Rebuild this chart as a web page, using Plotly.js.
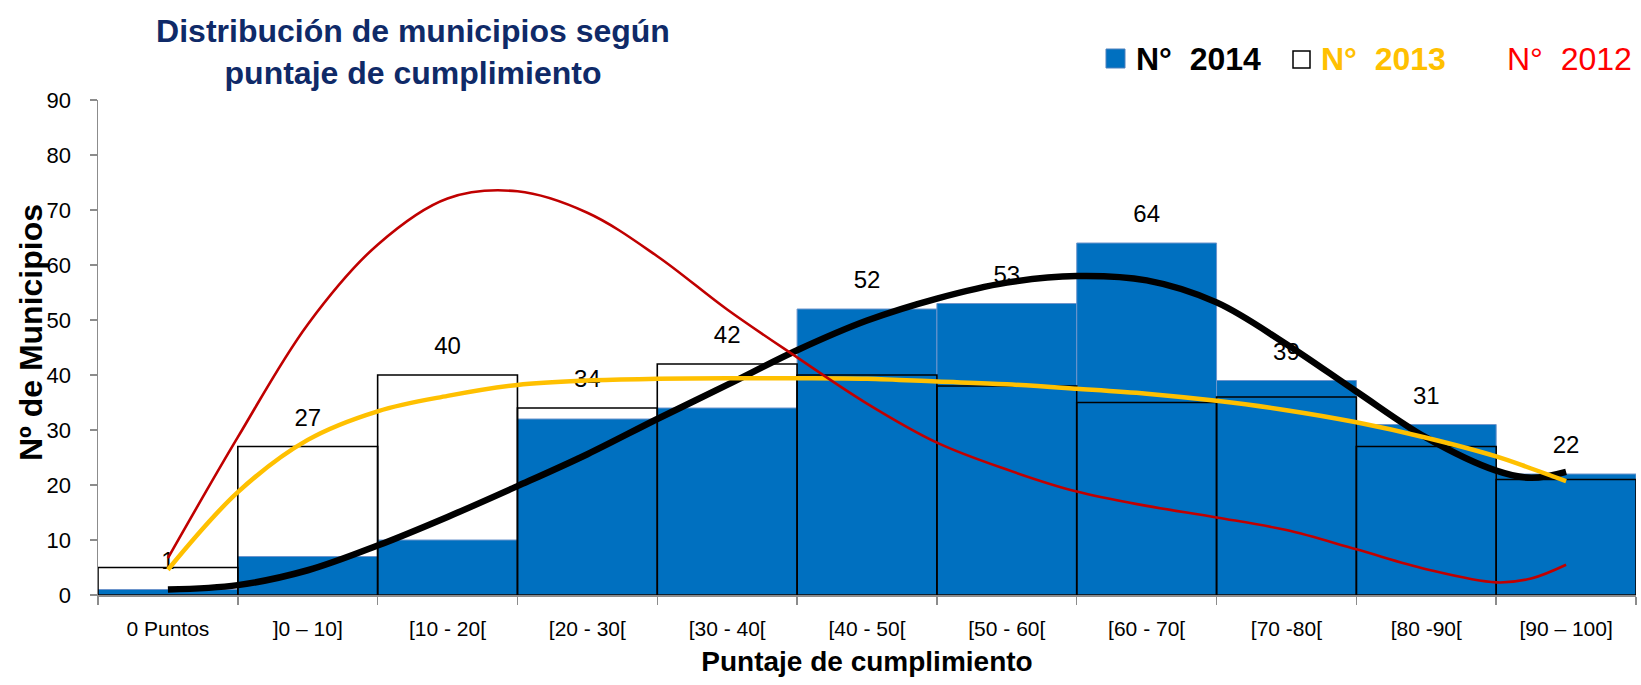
<!DOCTYPE html>
<html>
<head>
<meta charset="utf-8">
<script src="https://cdn.plot.ly/plotly-3.0.1.min.js"></script>
<style>
html,body{margin:0;padding:0;background:#fff;}
#chart{width:1641px;height:685px;}
</style>
</head>
<body>
<div id="chart"></div>
<script>
// ---- data ----
const categories = ['0 Puntos', ']0 \u2013 10]', '[10 - 20[', '[20 - 30[', '[30 - 40[', '[40 - 50[', '[50 - 60[', '[60 - 70[', '[70 -80[', '[80 -90[', '[90 \u2013 100]'];
const values2014 = [1, 7, 10, 32, 34, 52, 53, 64, 39, 31, 22];
const values2013 = [5, 27, 40, 34, 42, 40, 38, 35, 36, 27, 21];
const labelValues = [1, 27, 40, 34, 42, 52, 53, 64, 39, 31, 22];

// smooth trend curves (read at category centres and half steps)
const trendX    = [0, 0.5, 1, 1.5, 2, 2.5, 3, 3.5, 4, 4.5, 5, 5.5, 6, 6.5, 7, 7.5, 8, 8.5, 9, 9.5, 9.75, 10];
const trend2014 = [1, 1.8, 4.5, 9.0, 14.2, 19.8, 25.6, 32.0, 38.2, 44.5, 49.9, 53.9, 56.8, 58.0, 57.2, 53.2, 45.6, 37.0, 28.6, 22.6, 21.3, 22.4];
const trend2013 = [4.6, 18.7, 28.2, 33.4, 36.2, 38.2, 39.0, 39.3, 39.4, 39.4, 39.3, 38.8, 38.3, 37.5, 36.6, 35.3, 33.6, 31.4, 28.6, 25.2, 23.0, 20.7];
const trend2012 = [6.7, 28.7, 49.2, 63.7, 72.1, 73.4, 69.5, 61.6, 51.9, 43.2, 34.8, 27.7, 22.8, 18.8, 16.2, 14.1, 11.8, 8.3, 4.7, 2.3, 3.0, 5.5];

const legendNames = ['N\u00b0\u00a0 2014', 'N\u00b0\u00a0 2013', 'N\u00b0\u00a0 2012'];

// ---- styling ----
const FONT = 'Liberation Sans, Arial, sans-serif';
const catIdx = categories.map((_, i) => i);
const boundaries = categories.map((_, i) => i - 0.5).concat([categories.length - 0.5]);

const traces = [
  {
    type: 'bar', x: catIdx, y: values2014, width: 1, name: legendNames[0],
    marker: {color: '#0070C0', line: {color: '#6d95cc', width: 1}},
    hoverinfo: 'skip', showlegend: false
  },
  {
    type: 'bar', x: catIdx, y: values2013, width: 1, name: legendNames[1],
    marker: {color: 'rgba(0,0,0,0)', line: {color: '#000000', width: 1.6}},
    hoverinfo: 'skip', showlegend: false
  },
  {
    type: 'scatter', mode: 'text', x: catIdx, y: labelValues, yaxis: 'y2',
    text: labelValues.map(String), textposition: 'middle center',
    textfont: {family: FONT, size: 24, color: '#000'},
    hoverinfo: 'skip', showlegend: false
  },
  {
    type: 'scatter', mode: 'lines', x: trendX, y: trend2014, yaxis: 'y3',
    line: {color: '#000000', width: 6.5, shape: 'spline', smoothing: 1},
    hoverinfo: 'skip', showlegend: false
  },
  {
    type: 'scatter', mode: 'lines', x: trendX, y: trend2013, yaxis: 'y3',
    line: {color: '#FFC000', width: 4.5, shape: 'spline', smoothing: 1},
    hoverinfo: 'skip', showlegend: false
  },
  {
    type: 'scatter', mode: 'lines', x: trendX, y: trend2012, yaxis: 'y3',
    line: {color: '#C00000', width: 2.6, shape: 'spline', smoothing: 1},
    hoverinfo: 'skip', showlegend: false
  }
];

const px2x = p => (p - 98) / 1538;
const py2y = p => (595 - p) / 495;

const layout = {
  width: 1641, height: 685,
  margin: {l: 98, r: 5, t: 100, b: 90},
  paper_bgcolor: '#ffffff', plot_bgcolor: '#ffffff',
  barmode: 'overlay', bargap: 0,
  showlegend: false,
  font: {family: FONT, color: '#000'},
  title: {
    text: '<b>Distribución de municipios según<br>puntaje de cumplimiento</b>',
    x: 413 / 1641, xref: 'container', xanchor: 'center',
    y: 1 - 42 / 685, yref: 'container', yanchor: 'top',
    font: {family: FONT, size: 32, color: '#0f2a68'}
  },
  xaxis: {
    range: [-0.5, categories.length - 0.5],
    tickmode: 'array', tickvals: catIdx, ticktext: categories,
    ticks: '', ticklabelstandoff: 14,
    tickfont: {family: FONT, size: 21, color: '#000'},
    showline: true, linecolor: '#8c8c8c', linewidth: 2,
    showgrid: false, zeroline: false,
    minor: {tickmode: 'array', tickvals: boundaries, ticks: 'outside', ticklen: 8, tickwidth: 1.5, tickcolor: '#8c8c8c', showgrid: false},
    title: {text: '<b>Puntaje de cumplimiento</b>', font: {family: FONT, size: 28, color: '#000'}, standoff: 12},
    automargin: false, fixedrange: true
  },
  yaxis: {
    range: [0, 90], tickmode: 'linear', tick0: 0, dtick: 10,
    ticks: 'outside', ticklen: 7, tickwidth: 1.5, tickcolor: '#8c8c8c',
    ticklabelstandoff: 14,
    tickfont: {family: FONT, size: 22, color: '#000'},
    showline: true, linecolor: '#8c8c8c', linewidth: 1.5,
    showgrid: false, zeroline: false,
    automargin: false, fixedrange: true
  },
  yaxis2: {overlaying: 'y', range: [-4.9, 85.1], visible: false, fixedrange: true},
  yaxis3: {overlaying: 'y', range: [0, 90], visible: false, fixedrange: true},
  shapes: [
    {type: 'rect', xref: 'paper', yref: 'paper', x0: px2x(1106), x1: px2x(1125), y0: py2y(68), y1: py2y(49),
     fillcolor: '#0070C0', line: {color: '#4f81bd', width: 1}},
    {type: 'rect', xref: 'paper', yref: 'paper', x0: px2x(1293), x1: px2x(1310), y0: py2y(68), y1: py2y(51),
     fillcolor: '#ffffff', line: {color: '#000000', width: 1.5}}
  ],
  annotations: [
    {xref: 'paper', yref: 'paper', x: px2x(31), y: py2y(333), xanchor: 'center', yanchor: 'middle', showarrow: false,
     textangle: -90, text: '<b>Nº de Municipios</b>', font: {family: FONT, size: 32, color: '#000000'}},
    {xref: 'paper', yref: 'paper', x: px2x(1134), y: py2y(59), xanchor: 'left', yanchor: 'middle', showarrow: false,
     text: '<b>' + legendNames[0] + '</b>', font: {family: FONT, size: 32, color: '#000000'}},
    {xref: 'paper', yref: 'paper', x: px2x(1319), y: py2y(59), xanchor: 'left', yanchor: 'middle', showarrow: false,
     text: '<b>' + legendNames[1] + '</b>', font: {family: FONT, size: 32, color: '#FFC000'}},
    {xref: 'paper', yref: 'paper', x: px2x(1505), y: py2y(59), xanchor: 'left', yanchor: 'middle', showarrow: false,
     text: legendNames[2], font: {family: FONT, size: 32, color: '#FF0000'}}
  ]
};

Plotly.newPlot('chart', traces, layout, {displayModeBar: false, staticPlot: true});
</script>
</body>
</html>
